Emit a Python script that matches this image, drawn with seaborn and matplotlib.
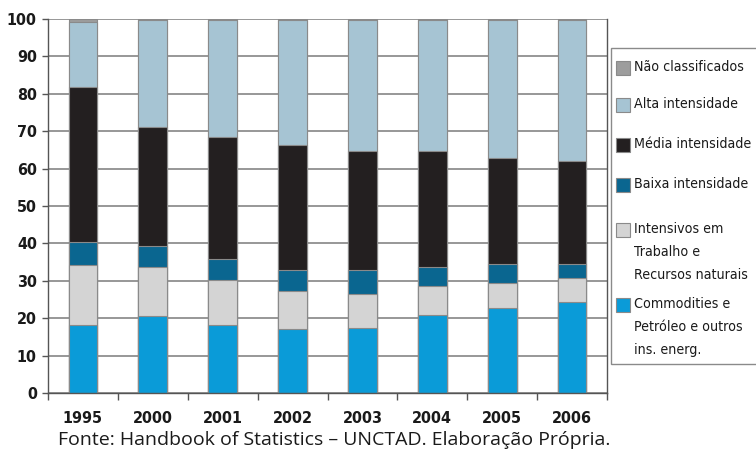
import matplotlib
matplotlib.use("Agg")
import matplotlib.pyplot as plt
from matplotlib.patches import Rectangle
import numpy as np
import pandas as pd
import seaborn as sns

years = ["1995", "2000", "2001", "2002", "2003", "2004", "2005", "2006"]
commodities = [18.3, 20.7, 18.3, 17.1, 17.5, 20.9, 22.6, 24.3]
intensivos = [15.8, 12.9, 11.9, 10.3, 9.0, 7.6, 6.9, 6.4]
baixa = [6.3, 5.7, 5.6, 5.4, 6.3, 5.1, 5.0, 3.8]
media = [41.4, 31.7, 32.7, 33.4, 31.8, 31.0, 28.4, 27.5]
alta = [17.5, 28.6, 31.1, 33.4, 35.0, 35.0, 36.7, 37.6]
nao_class = [0.7, 0.4, 0.4, 0.4, 0.4, 0.4, 0.4, 0.4]

series_names = [
    "Commodities e\nPetróleo e outros\nins. energ.",
    "Intensivos em\nTrabalho e\nRecursos naturais",
    "Baixa intensidade",
    "Média intensidade",
    "Alta intensidade",
    "Não classificados",
]
series_values = [commodities, intensivos, baixa, media, alta, nao_class]
colors = ["#0a9bd8", "#d4d4d4", "#0a6690", "#231f20", "#a6c4d3", "#9d9d9d"]

sns.set_theme(style="white")
font = ["DejaVu Sans"]
plt.rcParams["font.family"] = font

df = pd.DataFrame({"ano": years})
cum = np.zeros(len(years))
for name, vals in zip(series_names, series_values):
    cum = cum + np.array(vals)
    df[name] = cum.copy()

fig = plt.figure(figsize=(7.56, 4.51), dpi=100)
W, H = 756, 451
ax = fig.add_axes([48 / W, 1 - 393 / H, (607 - 48) / W, (393 - 19) / H])

# stacked bars: draw cumulative totals from the top layer down
for name, col in reversed(list(zip(series_names, colors))):
    sns.barplot(data=df, x="ano", y=name, color=col, width=0.41,
                edgecolor="#8a8a8a", linewidth=0.8, saturation=1, ax=ax)

ax.set_ylim(0, 100)
ax.set_xlim(-0.5, len(years) - 0.5)
ax.set_yticks(range(0, 101, 10))
ax.set_axisbelow(True)
ax.yaxis.grid(True, color="#7a7a7a", linewidth=1.1)
ax.xaxis.grid(False)
ax.set_xlabel("")
ax.set_ylabel("")
ax.spines["top"].set_visible(False)
for s in ["left", "bottom", "right"]:
    ax.spines[s].set_color("#555555")
    ax.spines[s].set_linewidth(1.0)

ax.set_xticks(np.arange(len(years)))
ax.set_xticklabels(years)
ax.set_xticks(np.arange(-0.5, len(years), 1.0), minor=True)
ax.tick_params(axis="x", which="major", length=0, pad=13, labelsize=11.5,
               colors="#1a1a1a")
ax.tick_params(axis="x", which="minor", length=5, width=1, color="#555555",
               direction="out", bottom=True)
ax.tick_params(axis="y", length=4, width=1, color="#555555", labelsize=11.5,
               colors="#1a1a1a", pad=4, left=True)
for lab in ax.get_xticklabels() + ax.get_yticklabels():
    lab.set_fontweight("semibold")
    lab.set_fontstretch("condensed")

# legend box
bx0, by0, bx1, by1 = 611, 48, 760, 364
fig.patches.append(Rectangle((bx0 / W, 1 - by1 / H), (bx1 - bx0) / W,
                             (by1 - by0) / H, transform=fig.transFigure,
                             facecolor="white", edgecolor="#8a8a8a",
                             linewidth=1.0))
entry_y = [68, 105, 145, 185, 230, 305]
legend_order = list(zip(series_names, colors))[::-1]
for (name, col), yy in zip(legend_order, entry_y):
    fig.patches.append(Rectangle((616 / W, 1 - (yy + 7) / H), 14 / W, 14 / H,
                                 transform=fig.transFigure, facecolor=col,
                                 edgecolor="#8a8a8a", linewidth=0.8))
    fig.text(634 / W, 1 - (yy - 8) / H, name, ha="left", va="top",
             fontsize=10.2, color="#1a1a1a", linespacing=1.82,
             family=font, stretch="condensed")

fig.text(58 / W, 1 - 440 / H,
         "Fonte: Handbook of Statistics – UNCTAD. Elaboração Própria.",
         ha="left", va="center", fontsize=14, color="#1a1a1a",
         family=["Open Sans", "DejaVu Sans"], stretch="normal")

fig.savefig("out.png", dpi=100, facecolor="white")
